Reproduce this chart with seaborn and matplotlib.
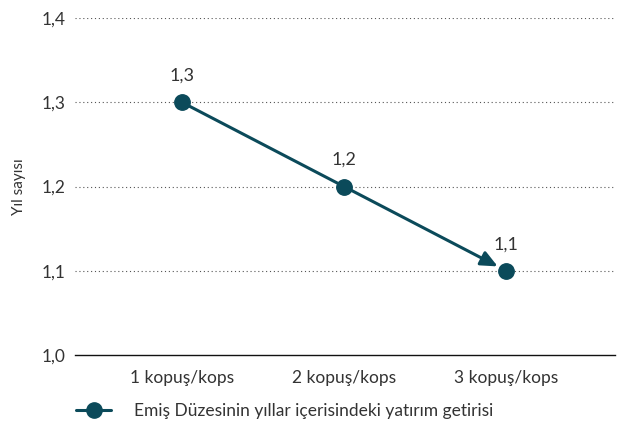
#!/usr/bin/env python3
import pandas as pd
import seaborn as sns
import matplotlib.pyplot as plt
from matplotlib.ticker import FuncFormatter

# Chart data
categories = ['1 kopuş/kops', '2 kopuş/kops', '3 kopuş/kops']
values = [1.3, 1.2, 1.1]
series_name = 'Emiş Düzesinin yıllar içerisindeki yatırım getirisi'
y_ticks = [1.0, 1.1, 1.2, 1.3, 1.4]

line_color = '#0b4a5a'
text_color = '#333333'

sns.set_style('white')
plt.rcParams['font.family'] = ['Lato', 'DejaVu Sans']

df = pd.DataFrame({'pos': range(len(categories)), 'value': values})

fig = plt.figure(figsize=(6.25, 4.3), dpi=100)
ax = fig.add_axes([0.12, 0.174, 0.864, 0.784])

# line without the last segment, which is drawn as an arrow
sns.lineplot(data=df.iloc[:-1], x='pos', y='value', color=line_color, linewidth=2.2,
             ax=ax, legend=False)
ax.annotate('', xy=(df['pos'].iloc[-1], values[-1]),
            xytext=(df['pos'].iloc[-2], values[-2]),
            arrowprops=dict(arrowstyle='-|>,head_length=1.0,head_width=0.45',
                            color=line_color, lw=2.2, shrinkA=0, shrinkB=7))
sns.scatterplot(data=df, x='pos', y='value', color=line_color, s=125,
                edgecolor=line_color, ax=ax, legend=False, zorder=5)

for x, v in zip(df['pos'], values):
    ax.text(x, v + 0.022, f'{v:.1f}'.replace('.', ','), ha='center', va='bottom',
            fontsize=13, color=text_color)

ax.set_xlim(-0.66, 2.67)
ax.set_ylim(1.0, 1.4)
ax.set_xticks(df['pos'])
ax.set_xticklabels(categories)
ax.set_yticks(y_ticks)
ax.yaxis.set_major_formatter(FuncFormatter(lambda v, p: f'{v:.1f}'.replace('.', ',')))
ax.tick_params(axis='both', length=0, labelsize=12.5, labelcolor=text_color)
ax.tick_params(axis='x', pad=11)
ax.tick_params(axis='y', pad=7)
ax.set_xlabel('')
ax.set_ylabel('Yıl sayısı', fontsize=11, color=text_color, labelpad=11)

for y in y_ticks[1:]:
    ax.axhline(y, color='#555555', linestyle=(0, (1, 2.5)), linewidth=0.8, zorder=0)

for s in ['top', 'right', 'left']:
    ax.spines[s].set_visible(False)
ax.spines['bottom'].set_color('#111111')
ax.spines['bottom'].set_linewidth(1)

handle = plt.Line2D([], [], color=line_color, linewidth=2.2, marker='o',
                    markersize=11)
fig.legend([handle], [series_name], loc='lower left', bbox_to_anchor=(0.097, -0.01),
           frameon=False, fontsize=12.5, handlelength=2.0, handletextpad=1.3,
           labelcolor=text_color)

plt.savefig('out.png', dpi=100)
plt.close()
